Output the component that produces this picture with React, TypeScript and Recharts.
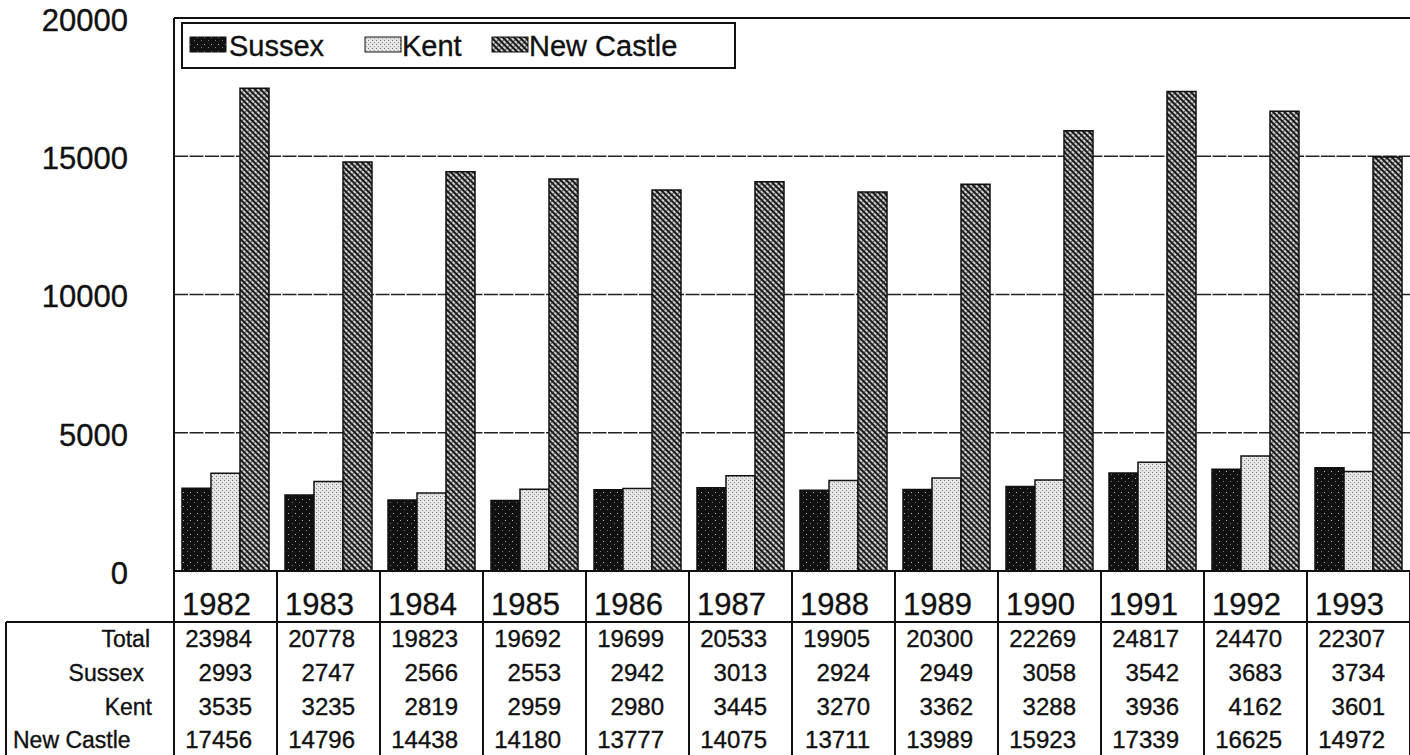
import React from 'react';
import { BarChart, Bar, XAxis, YAxis, CartesianGrid, ReferenceLine } from 'recharts';

const years = ['1982', '1983', '1984', '1985', '1986', '1987', '1988', '1989', '1990', '1991', '1992', '1993'];
const totals = [23984, 20778, 19823, 19692, 19699, 20533, 19905, 20300, 22269, 24817, 24470, 22307];
const sussex = [2993, 2747, 2566, 2553, 2942, 3013, 2924, 2949, 3058, 3542, 3683, 3734];
const kent = [3535, 3235, 2819, 2959, 2980, 3445, 3270, 3362, 3288, 3936, 4162, 3601];
const newCastle = [17456, 14796, 14438, 14180, 13777, 14075, 13711, 13989, 15923, 17339, 16625, 14972];
const yTicks = [0, 5000, 10000, 15000, 20000];
const rowLabels = ['Total', 'Sussex', 'Kent', 'New Castle'];

const data = years.map((y, i) => ({
  year: y,
  Sussex: sussex[i],
  Kent: kent[i],
  'New Castle': newCastle[i],
}));

const W = 1410;
const H = 755;
const PLOT_LEFT = 174;
const PLOT_TOP = 18;
const AXIS_H = 184;
const PLOT_BOTTOM = H - AXIS_H;
const BAND = (W - PLOT_LEFT) / years.length;
const FONT = '"Liberation Sans", Arial, sans-serif';
const TABLE_TOP = 622;
const ROW_BASE = [647, 681, 715, 748];
const TXT = { fontFamily: FONT, fill: '#111', stroke: '#111', strokeWidth: 0.35 };

const Patterns = () => (
  <svg width={0} height={0} style={{ position: 'absolute' }}>
    <defs>
      <pattern id="pSussex" width={7} height={7} patternUnits="userSpaceOnUse">
        <rect width={7} height={7} fill="#111" />
        <rect x={1} y={2} width={1} height={1} fill="#fff" opacity={0.7} />
        <rect x={5} y={5} width={1} height={1} fill="#bbb" opacity={0.6} />
      </pattern>
      <pattern id="pKent" width={4} height={4} patternUnits="userSpaceOnUse">
        <rect width={4} height={4} fill="#e3e3e3" />
        <rect x={0} y={0} width={1} height={1} fill="#777" />
        <rect x={2} y={2} width={1} height={1} fill="#999" />
        <rect x={3} y={1} width={1} height={1} fill="#fff" />
      </pattern>
      <pattern id="pNC" width={4} height={4} patternUnits="userSpaceOnUse" patternTransform="rotate(-45)">
        <rect width={4} height={4} fill="#cfcfcf" />
        <rect x={0} y={0} width={2} height={4} fill="#1a1a1a" />
        <rect x={2} y={0} width={2} height={1} fill="#555" />
      </pattern>
    </defs>
  </svg>
);

const YTick = (props: any) => {
  const { y, payload } = props;
  return (
    <text x={128} y={y + 2} dy="0.35em" textAnchor="end" fontSize={31} {...TXT}>
      {payload.value}
    </text>
  );
};

const XTick = (props: any) => {
  const { x, payload } = props;
  const i = years.indexOf(String(payload.value));
  const left = x - BAND / 2;
  const vals = [totals[i], sussex[i], kent[i], newCastle[i]];
  return (
    <g>
      <line x1={left} y1={PLOT_BOTTOM} x2={left} y2={H} stroke="#111" strokeWidth={2} />
      {i === years.length - 1 && (
        <line x1={left + BAND} y1={PLOT_BOTTOM} x2={left + BAND} y2={H} stroke="#111" strokeWidth={2} />
      )}
      <text x={left + 8} y={615} textAnchor="start" fontSize={31} {...TXT}>
        {payload.value}
      </text>
      {vals.map((v, r) => (
        <text key={r} x={left + 78} y={ROW_BASE[r]} textAnchor="end" fontSize={24} {...TXT}>
          {v}
        </text>
      ))}
      {i === 0 && (
        <g>
          <line x1={6} y1={TABLE_TOP} x2={W} y2={TABLE_TOP} stroke="#111" strokeWidth={2} />
          <line x1={6} y1={TABLE_TOP} x2={6} y2={H} stroke="#111" strokeWidth={2} />
          {rowLabels.map((l, r) =>
            r === 3 ? (
              <text key={l} x={13} y={ROW_BASE[r]} textAnchor="start" fontSize={23} {...TXT}>
                {l}
              </text>
            ) : (
              <text key={l} x={[150, 144, 152][r]} y={ROW_BASE[r]} textAnchor="end" fontSize={23} {...TXT}>
                {l}
              </text>
            )
          )}
        </g>
      )}
    </g>
  );
};

const legendItems = [
  { name: 'Sussex', fill: 'url(#pSussex)', sw: 190, tx: 229 },
  { name: 'Kent', fill: 'url(#pKent)', sw: 365, tx: 402 },
  { name: 'New Castle', fill: 'url(#pNC)', sw: 492, tx: 529 },
];

const LegendBox = () => (
  <svg width={W} height={80} style={{ position: 'absolute', left: 0, top: 0, pointerEvents: 'none' }}>
    <rect x={182} y={23} width={553} height={45} fill="#fff" stroke="#111" strokeWidth={2} />
    {legendItems.map((it) => (
      <g key={it.name}>
        <rect x={it.sw} y={37} width={36} height={15} fill={it.fill} stroke="#111" strokeWidth={1} />
        <text x={it.tx} y={56} fontSize={29} {...TXT}>
          {it.name}
        </text>
      </g>
    ))}
  </svg>
);

export default function App() {
  return (
    <div style={{ position: 'absolute', left: 0, top: 0, width: W, height: H, background: '#fff' }}>
      <Patterns />
      <BarChart
        width={W}
        height={H}
        data={data}
        margin={{ top: PLOT_TOP, right: 0, left: 0, bottom: 0 }}
        barCategoryGap={8}
        barGap={0}
      >
        <CartesianGrid vertical={false} stroke="#222" strokeWidth={1.6} strokeDasharray="14 1.5" />
        <XAxis
          dataKey="year"
          height={AXIS_H}
          interval={0}
          tickLine={false}
          axisLine={{ stroke: '#111', strokeWidth: 2 }}
          tick={<XTick />}
        />
        <YAxis
          width={PLOT_LEFT}
          domain={[0, 20000]}
          ticks={yTicks}
          interval={0}
          tickLine={false}
          axisLine={{ stroke: '#111', strokeWidth: 2 }}
          tick={<YTick />}
        />
        <ReferenceLine y={20000} stroke="#111" strokeWidth={2} />
        <Bar dataKey="Sussex" fill="url(#pSussex)" stroke="#111" strokeWidth={1.5} isAnimationActive={false} />
        <Bar dataKey="Kent" fill="url(#pKent)" stroke="#111" strokeWidth={1.5} isAnimationActive={false} />
        <Bar dataKey="New Castle" fill="url(#pNC)" stroke="#111" strokeWidth={1.5} isAnimationActive={false} />
      </BarChart>
      <LegendBox />
    </div>
  );
}
